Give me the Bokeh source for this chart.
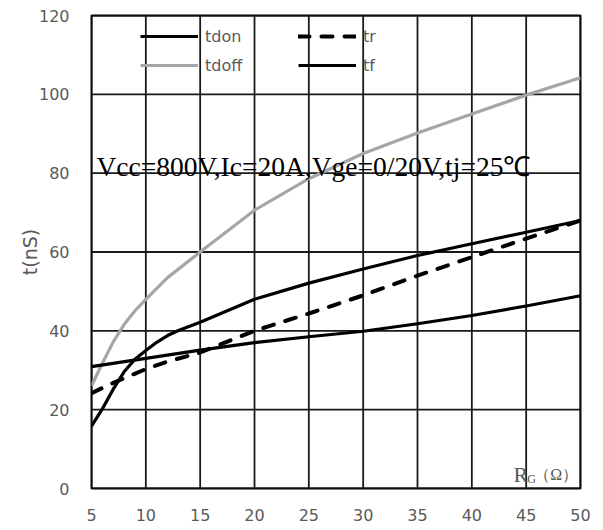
from bokeh.plotting import figure
from bokeh.models import Legend, LegendItem, FixedTicker, Range1d
from bokeh.core.properties import value
from bokeh.embed import file_html
from bokeh.resources import INLINE

# --- data ---
rg_on = [5, 6, 7, 8, 9, 10, 11, 12, 13, 15, 20, 25, 30, 35, 40, 45, 50]
tdon = [15.8, 20.2, 25.2, 29.6, 32.8, 35.0, 37.1, 38.8, 40.1, 42.2, 48.0, 52.1, 55.7, 59.1, 62.1, 65.0, 68.0]

rg_off = [5, 6, 7, 8, 9, 10, 12, 15, 20, 25, 30, 35, 40, 45, 50]
tdoff = [26.0, 31.8, 37.2, 41.6, 45.1, 48.0, 53.5, 60.0, 70.6, 78.6, 85.0, 90.2, 95.0, 99.8, 104.2]

rg_r = [5, 7, 10, 12, 15, 20, 25, 30, 35, 40, 45, 50]
tr = [24.2, 26.8, 30.3, 32.2, 34.5, 40.0, 44.4, 49.0, 54.0, 58.7, 63.4, 68.0]

rg_f = [5, 10, 15, 20, 25, 30, 35, 40, 45, 50]
tf = [30.9, 33.0, 35.1, 37.0, 38.5, 39.9, 41.8, 43.9, 46.3, 48.9]

x_ticks = [5, 10, 15, 20, 25, 30, 35, 40, 45, 50]
y_ticks = [0, 20, 40, 60, 80, 100, 120]

cond_text = "Vcc=800V,Ic=20A,Vge=0/20V,tj=25℃"

BLACK = "#000000"
GRAY = "#a6a6a6"
LABEL = "#595959"
GRID = "#1a1a1a"

x_lo, x_hi = x_ticks[0], x_ticks[-1]
y_lo, y_hi = y_ticks[0], y_ticks[-1]

p = figure(width=603, height=530, output_backend="svg", toolbar_location=None,
           x_range=Range1d(x_lo, x_hi), y_range=Range1d(y_lo, y_hi),
           min_border_left=91, min_border_right=23, min_border_top=15, min_border_bottom=42)
p.background_fill_color = "white"
p.border_fill_color = "white"
p.outline_line_color = "#000000"
p.outline_line_width = 2
p.outline_line_alpha = 1
p.xgrid.visible = False
p.ygrid.visible = False

# axes
p.xaxis.ticker = FixedTicker(ticks=x_ticks)
p.yaxis.ticker = FixedTicker(ticks=y_ticks)
for ax in (p.xaxis, p.yaxis):
    ax.axis_line_color = None
    ax.major_tick_line_color = None
    ax.minor_tick_line_color = None
    ax.major_label_text_color = LABEL
    ax.major_label_text_font = "DejaVu Sans"
    ax.major_label_text_font_size = "16px"
p.xaxis.major_label_standoff = 14
p.yaxis.major_label_standoff = 16
p.yaxis.axis_label = "t(nS)"
p.yaxis.axis_label_text_font = "DejaVu Sans"
p.yaxis.axis_label_text_font_style = "normal"
p.yaxis.axis_label_text_font_size = "19px"
p.yaxis.axis_label_text_color = LABEL
p.yaxis.axis_label_standoff = -5

# grid lines at the tick positions, drawn as segments under the curves
p.segment(x0=x_ticks, y0=[y_lo] * len(x_ticks), x1=x_ticks, y1=[y_hi] * len(x_ticks),
          line_color=GRID, line_width=1.8)
p.segment(x0=[x_lo] * len(y_ticks), y0=y_ticks, x1=[x_hi] * len(y_ticks), y1=y_ticks,
          line_color=GRID, line_width=1.8)

# curves
r_on = p.line(rg_on, tdon, line_color=BLACK, line_width=3.2)
r_off = p.line(rg_off, tdoff, line_color=GRAY, line_width=3.2)
r_r = p.line(rg_r, tr, line_color=BLACK, line_width=4, line_dash="11 12", line_cap="round")
r_f = p.line(rg_f, tf, line_color=BLACK, line_width=3.2)

# legends
def make_legend(items, loc):
    lg = Legend(items=items, location=loc, orientation="vertical",
                glyph_width=58, glyph_height=20, label_height=20, label_standoff=7,
                spacing=9, padding=0, margin=0,
                border_line_color=None, background_fill_alpha=0,
                label_text_color=LABEL, label_text_font="DejaVu Sans",
                label_text_font_size="16px")
    return lg

leg1 = make_legend([LegendItem(label="tdon", renderers=[r_on]),
                    LegendItem(label="tdoff", renderers=[r_off])], (49, 413))
leg2 = make_legend([LegendItem(label="tr", renderers=[r_r]),
                    LegendItem(label="tf", renderers=[r_f])], (207, 413))
p.add_layout(leg1, "center")
p.add_layout(leg2, "center")

# condition annotation
p.text(x=[5.45], y=[81.7], text=[cond_text], text_font=value("Liberation Serif"),
       text_font_size="27.5px", text_color=BLACK, text_baseline="alphabetic", text_align="left")

# R_G (Ω) axis label
p.text(x=[43.83], y=[3.5], text=["R"], text_font=value("Liberation Serif"),
       text_font_size="22px", text_color=LABEL, text_baseline="alphabetic", text_align="left")
p.text(x=[45.1], y=[2.3], text=["G"], text_font=value("Liberation Serif"),
       text_font_size="12px", text_color=LABEL, text_baseline="alphabetic", text_align="left")
p.text(x=[45.75], y=[3.5], text=["（Ω）"], text_font=value("Liberation Serif"),
       text_font_size="16px", text_color=LABEL, text_baseline="alphabetic", text_align="left")

open("out.html", "w").write(file_html(p, INLINE))
